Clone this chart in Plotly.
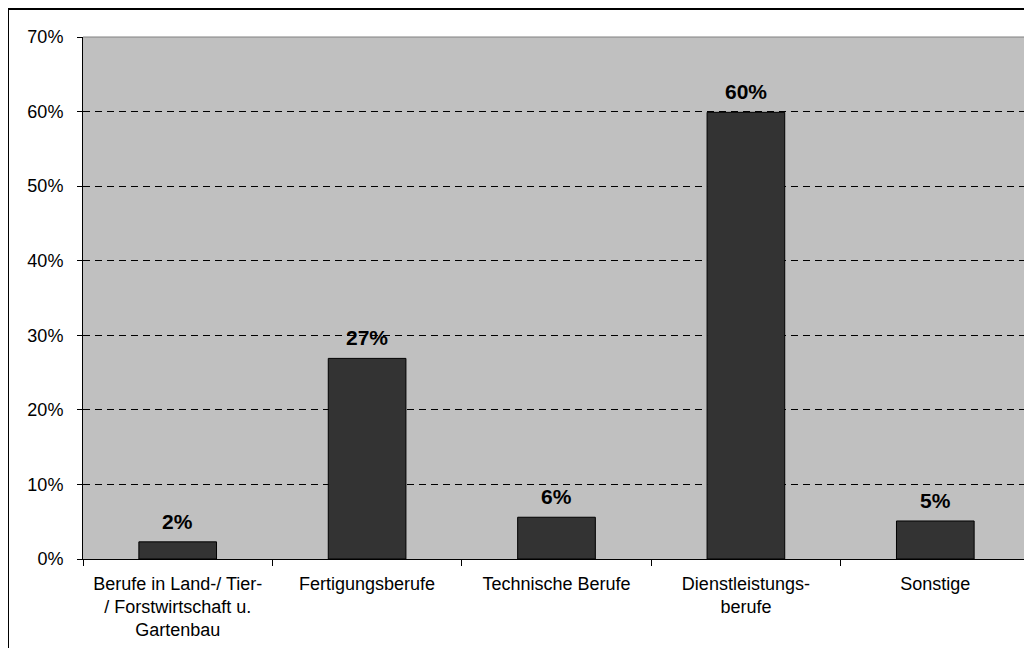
import plotly.graph_objects as go

categories = ["Berufe in Land-/ Tier-<br>/ Forstwirtschaft u.<br>Gartenbau",
              "Fertigungsberufe", "Technische Berufe",
              "Dienstleistungs-<br>berufe", "Sonstige"]
values = [0.023, 0.269, 0.056, 0.599, 0.051]
labels = ["2%", "27%", "6%", "60%", "5%"]
y_ticks = [0, 0.1, 0.2, 0.3, 0.4, 0.5, 0.6, 0.7]

# page body has an 8px margin; figure is laid out inside a 1024x640 box
W, H = 1024, 640
L, T, R, B = 75, 29, 2, 89
pw, ph = W - L - R, H - T - B

fig = go.Figure()
fig.add_trace(go.Bar(
    x=categories, y=values, width=0.41,
    marker=dict(color="#333333", line=dict(color="#000000", width=1)),
    hoverinfo="skip"))

for c, v, t in zip(categories, values, labels):
    fig.add_annotation(x=c, y=v, text="<b>%s</b>" % t, showarrow=False,
                       yanchor="bottom", yshift=7,
                       font=dict(family="Arial, Liberation Sans", size=21, color="#000000"))

# outer frame (paper coords extending beyond plot)
fig.add_shape(type="rect", xref="paper", yref="paper",
              x0=(0 - L) / pw, x1=(W + 20 - L) / pw,
              y0=-(B + 20) / ph, y1=(ph + T - 1) / ph,
              line=dict(color="#000000", width=2), layer="above")
# top and right plot border (gray)
fig.add_shape(type="line", xref="paper", yref="paper", x0=0, x1=1, y0=1, y1=1,
              line=dict(color="#808080", width=1), layer="above")
fig.add_shape(type="line", xref="paper", yref="paper", x0=1, x1=1, y0=0, y1=1,
              line=dict(color="#808080", width=1), layer="above")

fig.update_layout(
    width=W, height=H,
    margin=dict(l=L, r=R, t=T, b=B),
    paper_bgcolor="#FFFFFF", plot_bgcolor="#C0C0C0",
    showlegend=False, bargap=0.59,
    font=dict(family="Arial, Liberation Sans", color="#000000", size=17),
)
fig.update_xaxes(
    showline=True, linecolor="#000000", linewidth=1,
    ticks="outside", ticklen=6, tickcolor="#000000", tickson="boundaries",
    showgrid=False, tickfont=dict(size=18), ticklabelstandoff=8,
)
fig.update_yaxes(
    range=[0, 0.7], tickvals=y_ticks, tickformat=".0%",
    showline=True, linecolor="#000000", linewidth=1,
    ticks="outside", ticklen=5, tickcolor="#000000",
    showgrid=True, gridcolor="#000000", gridwidth=1, griddash="7px,5px",
    zeroline=False, tickfont=dict(size=18), ticklabelstandoff=10,
)

fig.write_html("out.html")
